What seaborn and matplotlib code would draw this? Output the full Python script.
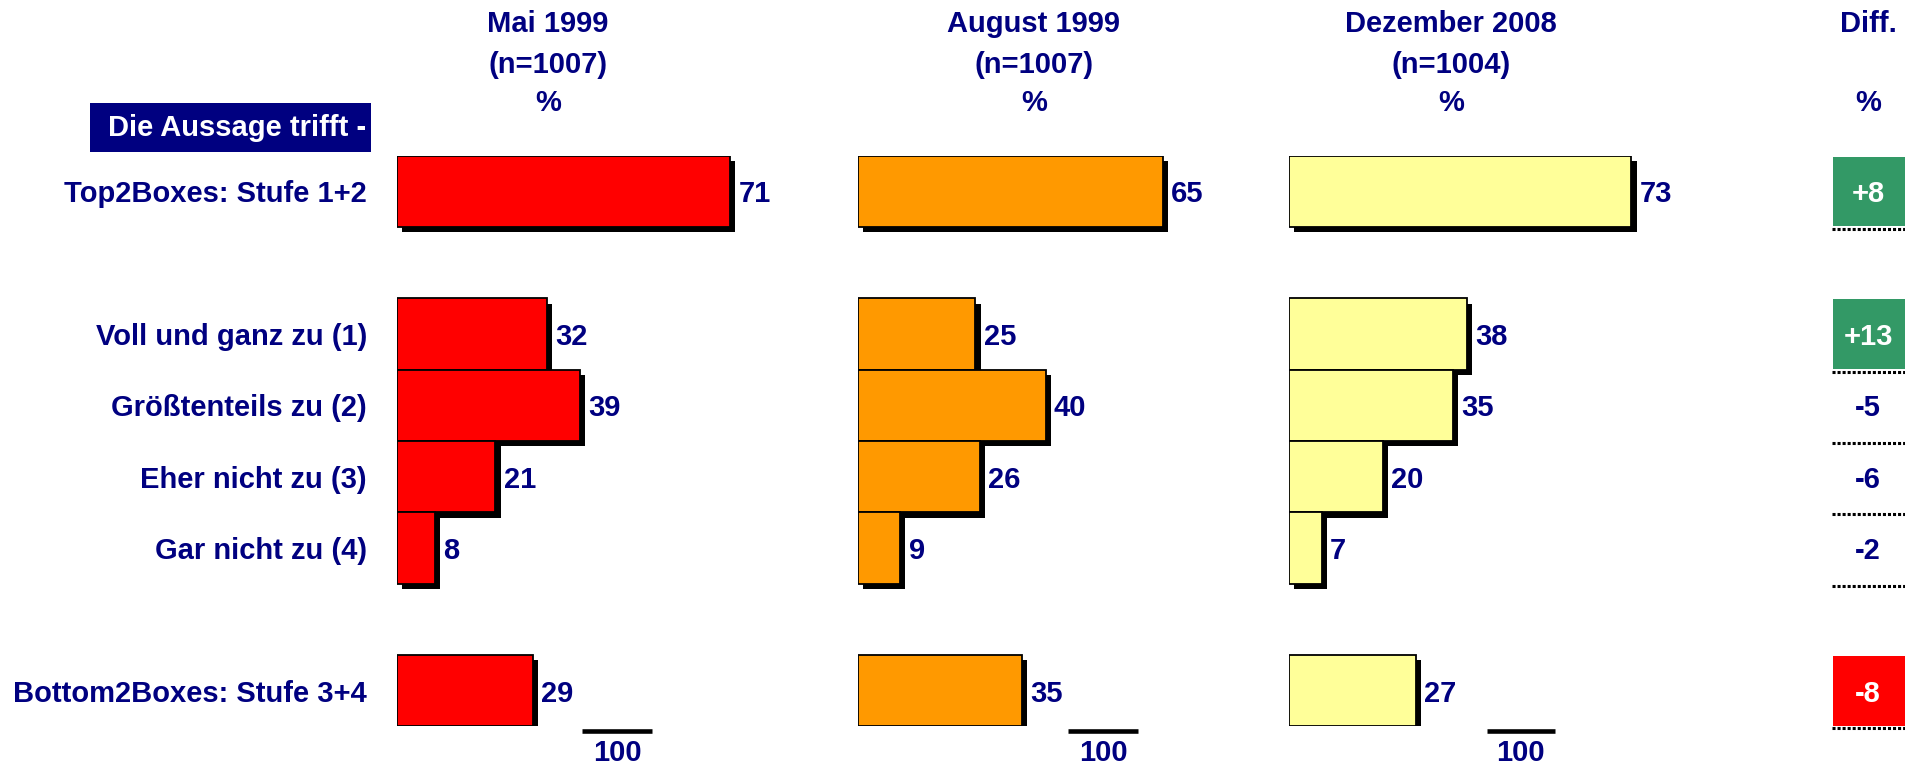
import numpy as np
import pandas as pd
import matplotlib
matplotlib.use("Agg")
import matplotlib.pyplot as plt
import matplotlib.patheffects as pe
from matplotlib.patches import Rectangle
import seaborn as sns

# ---------------- data ----------------
rows = ["Top2Boxes: Stufe 1+2", "Voll und ganz zu (1)", "Größtenteils zu (2)",
        "Eher nicht zu (3)", "Gar nicht zu (4)", "Bottom2Boxes: Stufe 3+4"]
slot_order = ["Top2Boxes: Stufe 1+2", "gap1", "Voll und ganz zu (1)", "Größtenteils zu (2)",
              "Eher nicht zu (3)", "Gar nicht zu (4)", "gap2", "Bottom2Boxes: Stufe 3+4"]
periods = ["Mai 1999", "August 1999", "Dezember 2008"]
sample_sizes = ["(n=1007)", "(n=1007)", "(n=1004)"]
mai_1999 = [71, 32, 39, 21, 8, 29]
aug_1999 = [65, 25, 40, 26, 9, 35]
dez_2008 = [73, 38, 35, 20, 7, 27]
diff_values = [8, 13, -5, -6, -2, -8]
scale_label = "100"
header_box_text = "Die Aussage trifft -"
diff_title = "Diff."

# ---------------- style ----------------
sns.set_style("white")
plt.rcParams['font.family'] = ['Liberation Sans', 'DejaVu Sans']
NAVY = "#000080"
FS = 21
panel_colors = ["#FF0000", "#FF9900", "#FFFF99"]
GREEN = "#339966"
RED = "#FF0000"

W, H = 1906, 768
fig = plt.figure(figsize=(W / 100, H / 100), dpi=100)
fig.patch.set_facecolor("white")

def fx(px):
    return px / W

def fy(py):
    return 1 - py / H

# vertical layout (pixels)
c0, step = 191.5, 71.3
top_px = c0 - step / 2
bot_px = c0 + 7.5 * step
ax_b = fy(bot_px)
ax_h = (bot_px - top_px) / H

px_per_unit = 4.69
xmax = 80
panel_left = [397, 858, 1289]
header_cx = [548, 1034, 1451]
scale_bar = [(39.4, 54.4), (44.8, 59.7), (42.2, 56.7)]

series = [mai_1999, aug_1999, dez_2008]
shadow = [pe.SimplePatchShadow(offset=(3.8, -3.8), shadow_rgbFace="black", alpha=1.0),
          pe.Normal()]

for k, (vals, color) in enumerate(zip(series, panel_colors)):
    ax = fig.add_axes([fx(panel_left[k]), ax_b, xmax * px_per_unit / W, ax_h])
    df = pd.DataFrame({"Kategorie": rows, "Prozent": vals})
    sns.barplot(data=df, x="Prozent", y="Kategorie", order=slot_order, color=color,
                saturation=1, width=1.0, edgecolor="black", linewidth=1.3,
                errorbar=None, orient="h", ax=ax)
    for p in ax.patches:
        p.set_path_effects(shadow)
    labels = ax.bar_label(ax.containers[0], padding=6, fontsize=FS, color=NAVY,
                          fontweight="bold")
    for t in labels:
        t.set_verticalalignment("center_baseline")
    ax.set_xlim(0, xmax)
    ax.set_ylim(7.5, -0.5)
    ax.set_xlabel("")
    ax.set_ylabel("")
    ax.set_xticks([])
    sns.despine(ax=ax, left=True, bottom=True)
    ax.patch.set_alpha(0)
    if k == 0:
        ax.set_yticks(range(len(slot_order)))
        ax.set_yticklabels([s if s in rows else "" for s in slot_order])
        ax.tick_params(axis="y", length=0, pad=21.6, labelsize=FS, labelcolor=NAVY)
        for lbl in ax.get_yticklabels():
            lbl.set_fontweight("bold")
    else:
        ax.set_yticks([])
    # scale bar "100"
    x0, x1 = scale_bar[k]
    ax.plot([x0, x1], [7.567, 7.567], color="black", lw=3.3,
            solid_capstyle="butt", clip_on=False)
    ax.text((x0 + x1) / 2, 7.835, scale_label, ha="center", va="center_baseline",
            fontsize=FS, color=NAVY, fontweight="bold", clip_on=False)
    # headers
    for txt, py in zip([periods[k], sample_sizes[k], "%"], [21, 62, 100]):
        fig.text(fx(header_cx[k]), fy(py), txt, ha="center", va="center_baseline",
                 fontsize=FS, color=NAVY, fontweight="bold")

# "Die Aussage trifft -" box
fig.patches.append(Rectangle((fx(90), fy(152)), (371 - 90) / W, (152 - 103) / H,
                             transform=fig.transFigure, facecolor=NAVY,
                             edgecolor="none"))
fig.text(fx(366), fy(125), header_box_text, ha="right", va="center_baseline",
         fontsize=FS, color="white", fontweight="bold")

# Diff column
fig.text(fx(1868), fy(21), diff_title, ha="center", va="center_baseline",
         fontsize=FS, color=NAVY, fontweight="bold")
fig.text(fx(1868), fy(100), "%", ha="center", va="center_baseline",
         fontsize=FS, color=NAVY, fontweight="bold")

dax = fig.add_axes([fx(1833), ax_b, (W - 1833) / W, ax_h])
dax.set_xlim(0, 1)
dax.set_ylim(7.5, -0.5)
dax.axis("off")
for name, d in zip(rows, diff_values):
    pos = slot_order.index(name)
    label = f"{d:+d}"
    if d >= 8:
        box = GREEN
    elif d <= -8:
        box = RED
    else:
        box = None
    if box is not None:
        dax.barh(pos, 1.0, height=0.98, left=0, color=box, edgecolor="none")
        tcolor = "white"
    else:
        tcolor = NAVY
    dax.text(0.48, pos, label, ha="center", va="center_baseline", fontsize=FS,
             color=tcolor, fontweight="bold")
    dax.hlines(pos + 0.53, -0.01, 1.0, colors="black", lw=2.2,
               linestyles=(0, (1, 0.65)), clip_on=False)

fig.savefig("out.png", dpi=100)
